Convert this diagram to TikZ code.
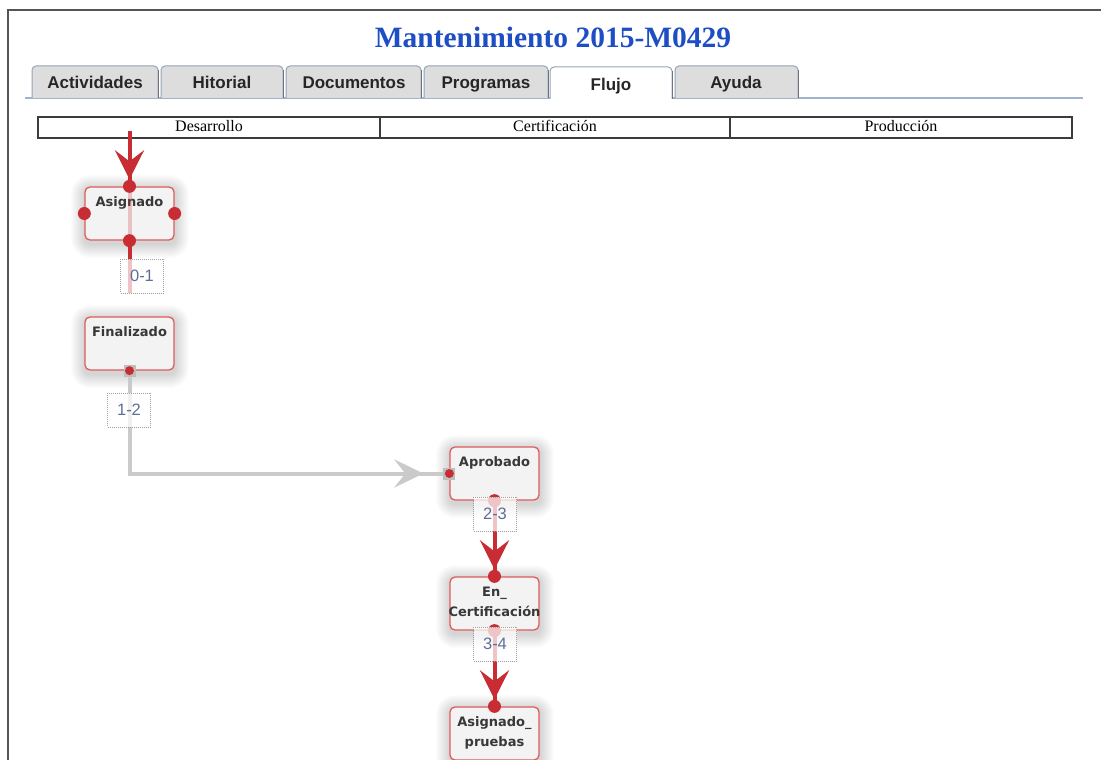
\documentclass[tikz,border=0pt]{standalone}
\usepackage{fontspec}
\setmainfont{Liberation Serif}
\newfontfamily\uisans{Liberation Sans}
\newfontfamily\statesans{DejaVu Sans}
\usetikzlibrary{arrows.meta,decorations.markings}

\definecolor{titleblue}{RGB}{30,78,196}
\definecolor{flowred}{RGB}{200,45,52}
\definecolor{stateedge}{RGB}{222,92,92}
\definecolor{statefill}{RGB}{243,243,243}
\definecolor{tabfill}{RGB}{221,221,221}
\definecolor{tabedge}{RGB}{150,165,185}
\definecolor{tabshade}{RGB}{110,115,125}
\definecolor{rulecol}{RGB}{160,180,205}
\definecolor{linkgray}{RGB}{202,202,202}
\definecolor{endgray}{RGB}{190,190,190}
\definecolor{labeltext}{RGB}{95,110,150}
\definecolor{framegray}{RGB}{85,85,85}
\definecolor{lanegray}{RGB}{60,60,60}

\tikzset{
  titletext/.style={font=\bfseries\fontsize{29.5}{31}\selectfont, text=titleblue, inner sep=0pt},
  tablabel/.style={font=\uisans\bfseries\fontsize{17}{19}\selectfont, text=black!85,
    inner sep=0pt, text height=12pt, text depth=3.5pt},
  tabshape/.style={draw=tabedge, line width=1pt, rounded corners=4pt},
  lanecell/.style={draw=lanegray, line width=1.8pt, minimum height=21pt, inner sep=0pt,
    text height=11pt, text depth=3pt, font=\fontsize{16}{16}\selectfont},
  state/.style={draw=stateedge, line width=1.3pt, fill=statefill, rounded corners=5pt,
    minimum width=89pt, minimum height=53pt, inner sep=0pt},
  glow/.style={fill=black, fill opacity=0.013},
  statetext/.style={font=\statesans\bfseries\fontsize{13}{20}\selectfont, text=black!78,
    align=center, anchor=north, inner sep=0pt},
  redlink/.style={draw=flowred, line width=4pt},
  graylink/.style={draw=linkgray, line width=4pt},
  redhead/.style={postaction={decorate}, decoration={markings,
    mark=at position #1 with {\arrow[flowred]{Stealth[length=29pt,width=29pt,inset=11pt]}}}},
  grayhead/.style={postaction={decorate}, decoration={markings,
    mark=at position #1 with {\arrow[linkgray]{Stealth[length=29pt,width=28pt,inset=11pt]}}}},
  linklabel/.style={draw=gray!75, dash pattern=on 1pt off 1pt, line width=0.8pt,
    fill=white, fill opacity=0.72, text opacity=1, minimum width=43pt, minimum height=34pt,
    inner sep=0pt, font=\uisans\fontsize{16.5}{16.5}\selectfont, text=labeltext},
}

\begin{document}
\begin{tikzpicture}[x=1pt,y=-1pt]
\useasboundingbox (0,0) rectangle (1101,760);
\fill[white] (0,0) rectangle (1101,760);

% tab strip
\draw[rulecol, line width=1.2pt] (25,98) -- (1083,98);
\foreach \xa/\xb in {32/158, 161/283, 286/421, 424/548, 675/798}{
  \filldraw[tabshape, fill=tabfill] (\xa,98) -- (\xa,66) -- (\xb,66) -- (\xb,98);
  \draw[tabshade, line width=1pt] (\xb,70) -- (\xb,98);
}
\filldraw[tabshape, fill=white] (550,99) -- (550,67) -- (672,67) -- (672,99);
\draw[tabshade, line width=1pt] (672,71) -- (672,99);

% window frame
\draw[framegray, line width=2pt] (8,760) -- (8,10) -- (1101,10);

% title
\node[titletext] (title) at (553,37) {Mantenimiento 2015-M0429};

% tab captions
\node[tablabel] (tAct) at (95,84.5) {Actividades};
\node[tablabel] (tHit) at (222,84.5) {Hitorial};
\node[tablabel] (tDoc) at (354,84.5) {Documentos};
\node[tablabel] (tPro) at (486,84.5) {Programas};
\node[tablabel] (tFlu) at (611,86.5) {Flujo};
\node[tablabel] (tAyu) at (736,84.5) {Ayuda};

% swimlane header
\node[lanecell, minimum width=342pt] (laneDes) at (209,127.5) {Desarrollo};
\node[lanecell, minimum width=350pt] (laneCer) at (555,127.5) {Certificación};
\node[lanecell, minimum width=342pt] (lanePro) at (901,127.5) {Producción};

% state positions and their soft shadows
\coordinate (asgC) at (129.5,213.5);
\coordinate (finC) at (129.5,343.5);
\coordinate (aprC) at (494.5,473.5);
\coordinate (ecC)  at (494.5,603.5);
\coordinate (apC)  at (494.5,733.5);
\foreach \c in {asgC,finC,aprC,ecC,apC}
  \foreach \i in {1,...,14}
    \fill[glow, rounded corners=5pt+\i pt]
      ([shift={(-44.5-\i,-24.5-\i)}]\c) rectangle ([shift={(45.5+\i,30.5+\i)}]\c);

% states
\node[state] (asg) at (asgC) {};
\node[state] (fin) at (finC) {};
\node[state] (apr) at (aprC) {};
\node[state] (ec)  at (ecC)  {};
\node[state] (ap)  at (apC)  {};
\node[statetext] (asgT) at ([yshift=-10pt]asg.north) {Asignado};
\node[statetext] (finT) at ([yshift=-10pt]fin.north) {Finalizado};
\node[statetext] (aprT) at ([yshift=-10pt]apr.north) {Aprobado};
\node[statetext] (ecT)  at ([yshift=-10pt]ec.north)  {En\_\\Certificación};
\node[statetext] (apT)  at ([yshift=-10pt]ap.north)  {Asignado\_\\pruebas};

% transitions
\coordinate (entry) at (129.5,131);
\coordinate (l01C) at (142,276);
\draw[redlink, redhead=-7pt] (entry) -- (asg.north);
\draw[redlink, draw opacity=0.25] (asg.north) -- (asg.south);
\draw[redlink] (asg.south) -- ([yshift=-17pt]asg.south |- l01C);
\draw[graylink, grayhead=-26pt] (fin.south) -- (fin.south |- apr.west) -- (apr.west);
\draw[redlink, redhead=-7pt] (apr.south) -- (ec.north);
\draw[redlink, redhead=-7pt] (ec.south) -- (ap.north);

% connection endpoints
\foreach \a in {asg.north, asg.west, asg.east, asg.south, apr.south, ec.north, ec.south, ap.north}
  \fill[flowred] (\a) circle (6.5pt);
\foreach \a in {fin.south, apr.west}{
  \fill[endgray] (\a) +(-6pt,-6pt) rectangle +(6pt,6pt);
  \fill[flowred] (\a) circle (4.5pt);
}

% transition labels
\node[linklabel] (l01) at (l01C) {0-1};
\node[linklabel] (l12) at (129,410) {1-2};
\node[linklabel] (l23) at (495,514) {2-3};
\node[linklabel] (l34) at (495,644) {3-4};
\end{tikzpicture}
\end{document}
